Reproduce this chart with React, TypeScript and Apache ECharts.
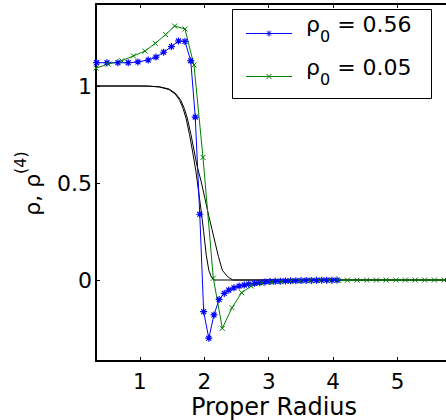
import React, { useEffect, useRef } from "react";
import * as echarts from "echarts";

// ---- data ----
const xTicks = [1, 2, 3, 4, 5];
const yTicks = [0, 0.5, 1];

const blueX = [0.33, 0.49, 0.66, 0.82, 0.97, 1.13, 1.25, 1.37, 1.49, 1.6, 1.7, 1.79, 1.86, 1.93, 1.99, 2.07, 2.15, 2.23, 2.31, 2.38, 2.46, 2.54, 2.62, 2.69, 2.78, 2.86, 2.94, 3.02, 3.1, 3.18, 3.26, 3.34, 3.42, 3.5, 3.58, 3.66, 3.74, 3.82, 3.9, 3.98, 4.06];
const blueY = [1.12, 1.12, 1.12, 1.12, 1.124, 1.134, 1.149, 1.174, 1.203, 1.232, 1.23, 1.13, 0.84, 0.339, -0.163, -0.3, -0.18, -0.1, -0.069, -0.052, -0.04, -0.031, -0.026, -0.021, -0.017, -0.014, -0.01, -0.008, -0.007, -0.006, -0.005, -0.004, -0.0035, -0.003, -0.0025, -0.002, -0.0015, -0.0012, -0.001, -0.0008, -0.0005];

const greenX = [0.32, 0.51, 0.72, 0.9, 1.08, 1.24, 1.4, 1.54, 1.7, 1.84, 1.98, 2.14, 2.28, 2.43, 2.58, 2.73, 2.89, 3.04, 3.19, 3.34, 3.49, 3.64, 3.79, 3.94, 4.08, 4.22, 4.37, 4.52, 4.67, 4.82, 4.97, 5.12, 5.27, 5.42, 5.57, 5.72];
const greenY = [1.092, 1.113, 1.13, 1.155, 1.18, 1.22, 1.265, 1.309, 1.294, 1.108, 0.632, 0.009, -0.249, -0.143, -0.065, -0.031, -0.017, -0.012, -0.009, -0.007, -0.005, -0.004, -0.003, -0.002, -0.0015, -0.001, -0.0008, -0.0006, -0.0005, -0.0004, -0.0003, -0.0002, -0.0002, -0.0001, -0.0001, 0];

const blackAX = [0.32, 1.0, 1.15, 1.3, 1.45, 1.55, 1.62, 1.67, 1.72, 1.77, 1.82, 1.87, 1.91, 1.95, 1.99, 2.03, 2.07, 2.11, 2.15, 5.9];
const blackAY = [1, 1, 0.999, 0.995, 0.982, 0.958, 0.925, 0.885, 0.83, 0.75, 0.66, 0.56, 0.46, 0.36, 0.25, 0.13, 0.05, 0.015, 0, 0];

const blackBX = [0.32, 1.0, 1.15, 1.3, 1.45, 1.55, 1.63, 1.69, 1.74, 1.79, 1.84, 1.89, 1.95, 2.01, 2.07, 2.12, 2.17, 2.22, 2.28, 2.36, 2.44, 5.9];
const blackBY = [1, 1, 0.999, 0.996, 0.985, 0.963, 0.93, 0.885, 0.83, 0.755, 0.67, 0.585, 0.51, 0.42, 0.33, 0.26, 0.19, 0.12, 0.05, 0.018, 0, 0];

const legendLabels = ["0.56", "0.05"];
const xAxisTitle = "Proper Radius";

const FONT = "DejaVu Sans";
const BLUE = "#0000ff";
const GREEN = "#008000";

const STAR = "path://M5,0L5,10M0,5L10,5M1.5,1.5L8.5,8.5M1.5,8.5L8.5,1.5";
const CROSS = "path://M0,0L10,10M0,10L10,0";

const pairs = (xs: number[], ys: number[]) => xs.map((x, i) => [x, ys[i]]);

function starLines(cx: number, cy: number, r: number, color: string) {
  const d = r * 0.7;
  const segs = [
    [0, -r, 0, r],
    [-r, 0, r, 0],
    [-d, -d, d, d],
    [-d, d, d, -d],
  ];
  return segs.map((s) => ({
    type: "line",
    shape: { x1: cx + s[0], y1: cy + s[1], x2: cx + s[2], y2: cy + s[3] },
    style: { stroke: color, lineWidth: 1 },
    z: 12,
  }));
}
function crossLines(cx: number, cy: number, r: number, color: string) {
  const segs = [
    [-r, -r, r, r],
    [-r, r, r, -r],
  ];
  return segs.map((s) => ({
    type: "line",
    shape: { x1: cx + s[0], y1: cy + s[1], x2: cx + s[2], y2: cy + s[3] },
    style: { stroke: color, lineWidth: 1 },
    z: 12,
  }));
}

function legendText(x: number, y: number, label: string) {
  return {
    type: "text",
    x,
    y,
    z: 12,
    style: {
      text: "{a|ρ}{b|0}{a| = " + label + "}",
      align: "left",
      verticalAlign: "middle",
      textAlign: "left",
      textVerticalAlign: "middle",
      rich: {
        a: { fontSize: 22, fontFamily: FONT, lineHeight: 40, fill: "#000" },
        b: { fontSize: 16, fontFamily: FONT, lineHeight: 14, verticalAlign: "bottom", fill: "#000" },
      },
    },
  };
}

export default function App() {
  const ref = useRef<HTMLDivElement>(null);
  useEffect(() => {
    document.body.style.margin = "0";
    const chart = echarts.init(ref.current!, null, { renderer: "svg" });
    const axisLine = { show: true, onZero: false, lineStyle: { color: "#000", width: 2 } };
    const labelStyle = { fontSize: 22, fontFamily: FONT, color: "#000" };
    chart.setOption({
      animation: false,
      backgroundColor: "#fff",
      grid: { left: 96, right: -6, top: 4, bottom: 59, containLabel: false, outerBoundsMode: "none" },
      xAxis: [
        {
          type: "value",
          position: "bottom",
          min: 0.32,
          max: 5.843,
          axisLine,
          axisTick: { show: true, inside: true, length: 4, customValues: xTicks, lineStyle: { color: "#000", width: 1 } },
          axisLabel: { ...labelStyle, fontSize: 21.5, lineHeight: 18, margin: 11, customValues: xTicks },
          splitLine: { show: false },
        },
        {
          type: "value",
          position: "top",
          min: 0.32,
          max: 5.843,
          axisLine,
          axisTick: { show: true, inside: true, length: 4, customValues: xTicks, lineStyle: { color: "#000", width: 1 } },
          axisLabel: { show: false },
          splitLine: { show: false },
        },
      ],
      yAxis: [
        {
          type: "value",
          position: "left",
          min: -0.4175,
          max: 1.4227,
          axisLine,
          axisTick: { show: true, inside: true, length: 4, customValues: yTicks, lineStyle: { color: "#000", width: 1 } },
          axisLabel: { ...labelStyle, margin: 4, customValues: yTicks },
          splitLine: { show: false },
        },
      ],
      series: [
        {
          type: "line",
          data: pairs(blackAX, blackAY),
          showSymbol: false,
          symbol: "none",
          lineStyle: { color: "#000", width: 1 },
          itemStyle: { color: "#000" },
          z: 2,
        },
        {
          type: "line",
          data: pairs(blackBX, blackBY),
          showSymbol: false,
          symbol: "none",
          lineStyle: { color: "#000", width: 1 },
          itemStyle: { color: "#000" },
          z: 2,
        },
        {
          type: "line",
          name: "ρ0 = 0.56",
          data: pairs(blueX, blueY),
          symbol: STAR,
          symbolSize: 7,
          lineStyle: { color: BLUE, width: 1 },
          itemStyle: { color: BLUE, borderColor: BLUE, borderWidth: 1.2 },
          z: 3,
        },
        {
          type: "line",
          name: "ρ0 = 0.05",
          data: pairs(greenX, greenY),
          symbol: CROSS,
          symbolSize: 5,
          lineStyle: { color: GREEN, width: 1 },
          itemStyle: { color: GREEN, borderColor: GREEN, borderWidth: 1 },
          z: 3,
        },
      ],
      graphic: [
        {
          type: "text",
          x: 274,
          y: 407,
          style: {
            text: xAxisTitle,
            fontSize: 24,
            fontFamily: FONT,
            lineHeight: 20,
            fill: "#000",
            align: "center",
            verticalAlign: "middle",
            textAlign: "center",
            textVerticalAlign: "middle",
          },
        },
        {
          type: "text",
          x: 32.4,
          y: 183.5,
          rotation: Math.PI / 2,
          style: {
            text: "{a|ρ, ρ}{b|(4)}",
            align: "center",
            verticalAlign: "middle",
            textAlign: "center",
            textVerticalAlign: "middle",
            rich: {
              a: { fontSize: 22, fontFamily: FONT, lineHeight: 40, fill: "#000" },
              b: { fontSize: 16, fontFamily: FONT, lineHeight: 16, verticalAlign: "top", fill: "#000" },
            },
          },
        },
        {
          type: "rect",
          shape: { x: 232.5, y: 9.5, width: 199, height: 89 },
          style: { fill: "#fff", stroke: "#000", lineWidth: 1 },
          z: 10,
        },
        {
          type: "line",
          shape: { x1: 246, y1: 33.5, x2: 292, y2: 33.5 },
          style: { stroke: BLUE, lineWidth: 1 },
          z: 11,
        },
        ...starLines(269, 33.5, 3, BLUE),
        {
          type: "line",
          shape: { x1: 246, y1: 76.5, x2: 292, y2: 76.5 },
          style: { stroke: GREEN, lineWidth: 1 },
          z: 11,
        },
        ...crossLines(269, 76.5, 2.5, GREEN),
        legendText(306, 24.5, legendLabels[0]),
        legendText(306, 67, legendLabels[1]),
      ],
    });
    return () => chart.dispose();
  }, []);
  return <div ref={ref} style={{ position: "absolute", left: 0, top: 0, width: 446, height: 420 }} />;
}
